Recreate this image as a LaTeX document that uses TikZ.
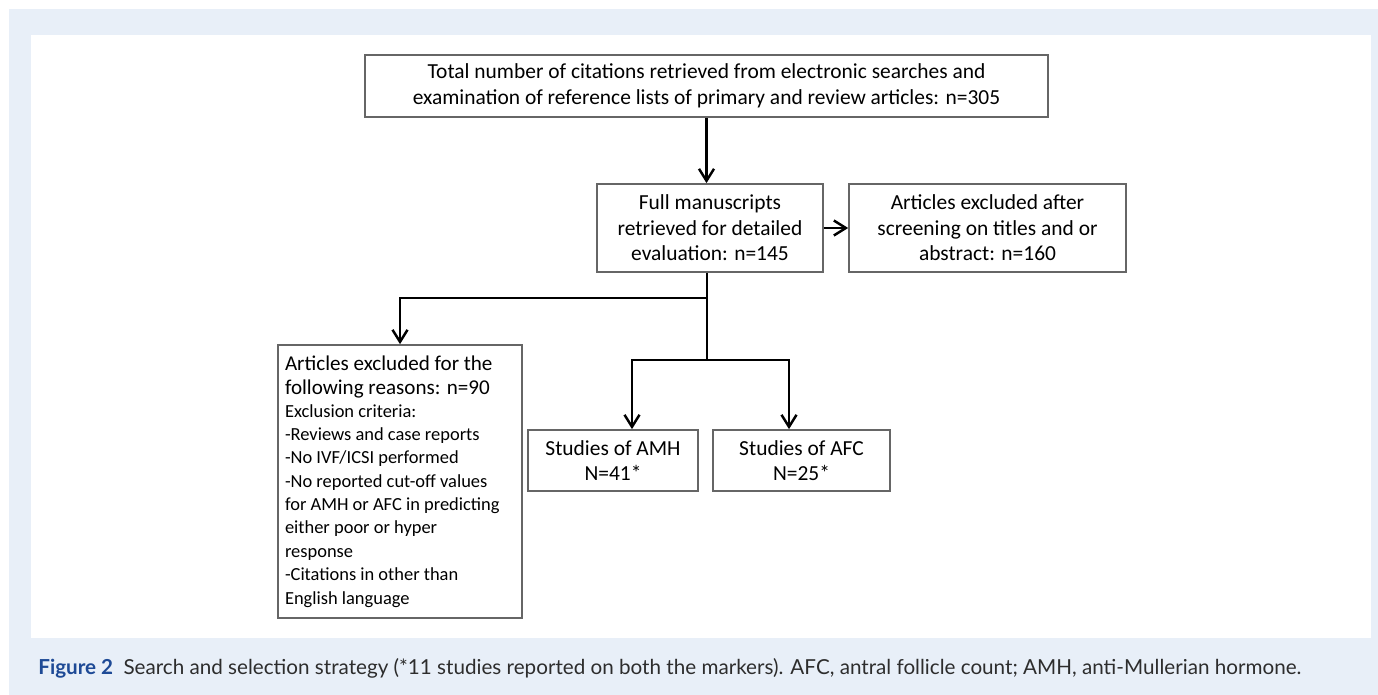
\documentclass[tikz,border=0pt]{standalone}
\usepackage{fontspec}
\setmainfont{Carlito}
\newfontfamily\capfont{Lato}
\usepackage{xcolor}
\usetikzlibrary{arrows.meta,calc}
\definecolor{panelblue}{RGB}{232,239,248}
\definecolor{figblue}{RGB}{30,74,150}
\definecolor{captext}{RGB}{45,45,45}

\begin{document}
\begin{tikzpicture}[x=0.02cm, y=-0.02cm, >={Straight Barb[length=2.4mm,width=3mm]},
  font=\fontsize{12.2}{14.5}\selectfont]
\tikzset{%
  box/.style = {%
    draw = black!60,
    line width = 1pt,
    fill = white,
    align = center,
    inner sep = 0pt,
    minimum height = 1.76cm
  },
  link/.style = {draw, line width = 1.4pt}
}

  % panel and frame
  \useasboundingbox (0,0) rectangle (1378,695);
  \fill[panelblue] (9,9) rectangle (1378,695);
  \fill[white] (31,35) rectangle (1371,638);

  \node[box, minimum width=13.66cm, minimum height=1.24cm] (total) at (706.5,86)
    {Total number of citations retrieved from electronic searches and\\
     examination of reference lists of primary and review articles: n=305};
  \node[box, minimum width=4.52cm] (full) at (710,228)
    {Full manuscripts\\retrieved for detailed\\evaluation: n=145};
  \node[box, minimum width=5.54cm] (screen) at (987.5,228)
    {Articles excluded after\\screening on titles and or\\abstract: n=160};

  \node[box, minimum width=4.88cm, minimum height=5.46cm, text width=4.6cm,
    align=flush left, font=\fontsize{12}{13.6}\selectfont] (reasons) at (400,481.5)
    {Articles excluded for the\\following reasons: n=90\par
     \fontsize{10.5}{13.25}\selectfont
     Exclusion criteria:\\-Reviews and case reports\\-No IVF/ICSI performed\\
     -No reported cut-off values\\for AMH or AFC in predicting\\
     either poor or hyper\\response\\-Citations in other than\\English language};

  \node[box, minimum width=3.4cm, minimum height=1.22cm] (amh) at (613,460.5)
    {Studies of AMH\\N=41*};
  \node[box, minimum width=3.54cm, minimum height=1.22cm] (afc) at (801.5,460.5)
    {Studies of AFC\\N=25*};

  \coordinate (fork) at (707,298);
  \coordinate (branch) at (707,360);

  \draw[link,->] (total.south) -- (total.south |- full.north);
  \draw[link,->] (full) -- (screen);
  \draw[link] (full.south -| branch) -- (branch);
  \draw[link,->] (fork) -| (reasons.north);
  \draw[link,->] (branch) -| ([xshift=.38cm]amh.north);
  \draw[link,->] (branch) -| ([xshift=-.25cm]afc.north);

  \node[anchor=base west, inner sep=0pt, text=captext,
    font=\capfont\fontsize{11.75}{14}\selectfont] (caption) at (38,674)
    {\textcolor{figblue}{\bfseries Figure 2}\enspace Search and selection strategy
     (*11 studies reported on both the markers). AFC, antral follicle count;
     AMH, anti-Mullerian hormone.};
\end{tikzpicture}
\end{document}
